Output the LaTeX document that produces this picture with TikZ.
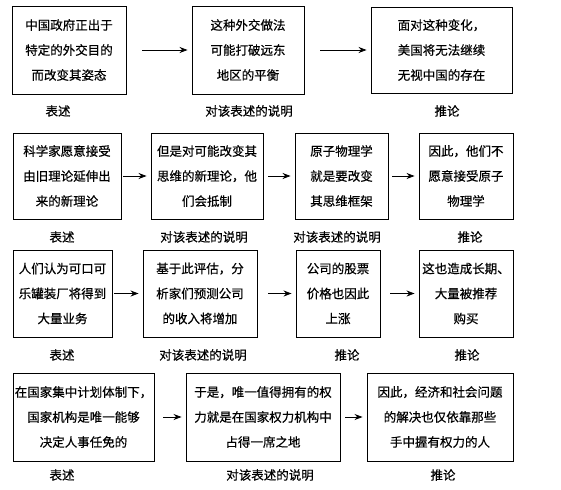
\documentclass[tikz,border=0pt]{standalone}
\usepackage{fontspec}
\setmainfont{Noto Sans CJK SC}[FakeBold=0.5]
\usetikzlibrary{arrows.meta}
\begin{document}
\begin{tikzpicture}[x=1pt,y=-1pt,
  box/.style={draw,line width=0.9pt,rectangle,align=center,inner sep=0pt,
    font=\fontsize{12.5pt}{25pt}\selectfont},
  lbl/.style={font=\fontsize{12.5pt}{15pt}\selectfont,inner sep=0pt},
  arr/.style={line width=0.8pt,-{Stealth[length=8pt,width=6pt]},shorten >=4pt}]
\useasboundingbox (0,0) rectangle (561,489);
%row 1
\node [box,minimum width=114pt,minimum height=88pt] (r1a) at (69,50) {中国政府正出于\\特定的外交目的\\而改变其姿态};
\node [box,minimum width=112pt,minimum height=88pt] (r1b) at (248,50) {这种外交做法\\可能打破远东\\地区的平衡};
\node [box,minimum width=141pt,minimum height=86pt] (r1c) at (441.5,50) {面对这种变化，\\美国将无法继续\\无视中国的存在};
\node [lbl] (l1a) at (58,111) {表述};
\node [lbl] (l1b) at (249,111) {对该表述的说明};
\node [lbl] (l1c) at (447,111) {推论};
%row 2
\node [box,minimum width=108pt,minimum height=86pt] (r2a) at (67,176) {科学家愿意接受\\由旧理论延伸出\\来的新理论};
\node [box,minimum width=112pt,minimum height=86pt] (r2b) at (207,176) {但是对可能改变其\\思维的新理论，他\\们会抵制};
\node [box,minimum width=93pt,minimum height=86pt] (r2c) at (341.5,176) {原子物理学\\就是要改变\\其思维框架};
\node [box,minimum width=94pt,minimum height=86pt] (r2d) at (466,176) {因此，他们不\\愿意接受原子\\物理学};
\node [lbl] (l2a) at (62,237) {表述};
\node [lbl] (l2b) at (204,237) {对该表述的说明};
\node [lbl] (l2c) at (337,237) {对该表述的说明};
\node [lbl] (l2d) at (470,237) {推论};
%row 3
\node [box,minimum width=99pt,minimum height=87pt] (r3a) at (62.5,293.5) {人们认为可口可\\乐罐装厂将得到\\大量业务};
\node [box,minimum width=114pt,minimum height=87pt] (r3b) at (200,293.5) {基于此评估，分\\析家们预测公司\\的收入将增加};
\node [box,minimum width=84pt,minimum height=87pt] (r3c) at (338,293.5) {公司的股票\\价格也因此\\上涨};
\node [box,minimum width=94pt,minimum height=87pt] (r3d) at (466,293.5) {这也造成长期、\\大量被推荐\\购买};
\node [lbl] (l3a) at (62,355) {表述};
\node [lbl] (l3b) at (203,355) {对该表述的说明};
\node [lbl] (l3c) at (347,355) {推论};
\node [lbl] (l3d) at (467,355) {推论};
%row 4
\node [box,minimum width=141pt,minimum height=88pt] (r4a) at (83.5,417) {在国家集中计划体制下，\\国家机构是唯一能够\\决定人事任免的};
\node [box,minimum width=154pt,minimum height=88pt] (r4b) at (263,417) {于是，唯一值得拥有的权\\力就是在国家权力机构中\\占得一席之地};
\node [box,minimum width=146pt,minimum height=88pt] (r4c) at (440,417) {因此，经济和社会问题\\的解决也仅依靠那些\\手中握有权力的人};
\node [lbl] (l4a) at (62,475) {表述};
\node [lbl] (l4b) at (270,475) {对该表述的说明};
\node [lbl] (l4c) at (443,475) {推论};

\foreach \a/\b/\g in {r1a/r1b/16,r1b/r1c/16,r2a/r2b/2,r2b/r2c/5,r2c/r2d/4,
  r3a/r3b/2,r3b/r3c/11,r3c/r3d/10,r4a/r4b/9,r4b/r4c/5}
  \draw [arr,shorten <=\g pt] (\a.east) -- (\b.west);
\end{tikzpicture}
\end{document}
